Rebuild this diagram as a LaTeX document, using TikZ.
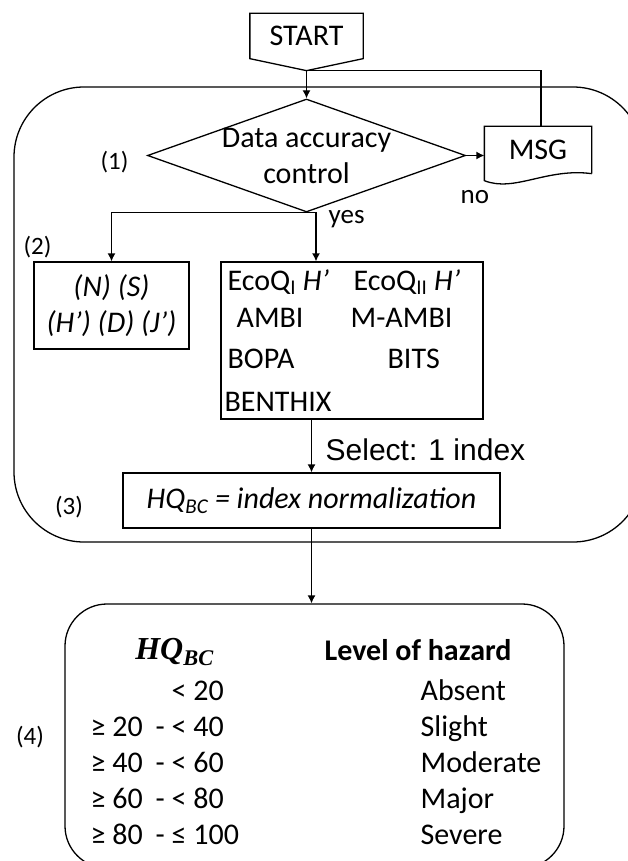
\documentclass[tikz,border=0pt]{standalone}
\usepackage{fontspec}
\setmainfont{Carlito}
\newfontfamily\arialfont{Liberation Sans}
\newfontfamily\headfont{Liberation Serif}
\usetikzlibrary{shapes.geometric, arrows.meta, positioning, calc}

\begin{document}
\begin{tikzpicture}[x=1pt, y=-1pt, line width=1.3pt,
    every node/.style={font=\fontsize{30}{36}\selectfont, inner sep=0pt},
    box/.style={draw, inner sep=0pt},
    tag/.style={font=\fontsize{25}{30}\selectfont},
    small/.style={font=\fontsize{27}{32}\selectfont},
    arr/.style={-{Latex[length=8pt,width=8pt]}}]
    \useasboundingbox (0,0) rectangle (628,861);

    \node[draw, rounded corners=70pt, minimum width=629pt, minimum height=455pt] (procframe) at (328.5,314.5) {};
    \node[draw, rounded corners=42pt, minimum width=499pt, minimum height=264pt] (hazard) at (314.5,736) {};

    \node[minimum width=112pt, minimum height=44pt] (start) at (306.5,36) {START};
    \coordinate (startpt) at ([yshift=-12pt]start.south);
    \draw (start.north west) -- (start.north east) -- (start.south east) -- (startpt) -- (start.south west) -- cycle;

    \node[diamond, draw, minimum width=318pt, minimum height=113pt,
        label={[align=center]center:Data accuracy\\control}] (check) at (306.5,155.5) {};

    \node[minimum width=106pt, minimum height=46pt] (msg) at (538,150) {MSG};
    \draw (msg.south east) -- (msg.north east) -- (msg.north west) -- ($(msg.south west)+(0,7)$)
        .. controls ($(msg.south west)+(30,19)$) and ($(msg.south east)+(-45,-6)$) .. (msg.south east);

    \node[tag] (stepone) at (114.5,162) {(1)};
    \node[tag] (steptwo) at (37.5,247) {(2)};
    \node[tag] (stepthree) at (69,507) {(3)};
    \node[tag] (stepfour) at (30,737) {(4)};

    \node[small, anchor=base west] (nolabel) at (460,203) {no};
    \node[small, anchor=base west] (yeslabel) at (328,223) {yes};

    \node[box, minimum width=155pt, minimum height=87pt, align=center,
        font=\fontsize{30}{36}\selectfont\itshape] (stats) at (111.5,305.5) {(N) (S)\\(H’) (D) (J’)};

    \node[box, minimum width=262pt, minimum height=157pt] (indices) at (352,340.5) {};
    \node[anchor=base west] (ecoqone) at (227,290) {EcoQ\textsubscript{I} \textit{H’}};
    \node[anchor=base west] (ecoqtwo) at (353,290) {EcoQ\textsubscript{II} \textit{H’}};
    \node[anchor=base west] (ambi) at (236,327) {AMBI};
    \node[anchor=base west] (mambi) at (350,327) {M-AMBI};
    \node[anchor=base west] (bopa) at (227,368) {BOPA};
    \node[anchor=base west] (bits) at (387,368) {BITS};
    \node[anchor=base west] (benthix) at (224,411) {BENTHIX};

    \node[box, minimum width=377pt, minimum height=55pt,
        font=\fontsize{30}{36}\selectfont\itshape] (hq) at (311.5,500.5) {HQ\textsubscript{BC} = index normalization};
    \node[anchor=base west, font=\arialfont\fontsize{30}{36}\selectfont] (select) at (325,460) {Select: 1 index};

    \draw[arr] (startpt) -- (check.north);
    \draw (startpt) -| ([xshift=3pt]msg.north);
    \draw[arr] (check.east) -- (check.east -| msg.west);
    \draw[arr] (check.south) -| (stats.north);
    \draw[arr] (check.south) -| ([xshift=-36pt]indices.north);
    \draw[arr] (hq.north |- indices.south) -- (hq.north);
    \draw[arr] (hq.south) -- (hq.south |- hazard.north);

    \node[anchor=base, font=\headfont\fontsize{32}{38}\selectfont\bfseries\itshape] (hqhead) at (174.5,659) {HQ\textsubscript{BC}};
    \node[anchor=base west, font=\fontsize{30}{36}\selectfont\bfseries] (levelhead) at (324,660) {Level of hazard};
    \foreach \lo/\hi/\lvl [count=\i] in {{}/{\phantom{-} < 20}/Absent, {≥ 20}/{- < 40}/Slight,
        {≥ 40}/{- < 60}/Moderate, {≥ 60}/{- < 80}/Major, {≥ 80}/{- ≤ 100}/Severe} {
        \node[anchor=base west] (lo\i) at (90,{664+36*\i}) {\lo};
        \node[anchor=base west] (hi\i) at (155,{664+36*\i}) {\hi};
        \node[anchor=base west] (lvl\i) at (420,{664+36*\i}) {\lvl};
    }
\end{tikzpicture}
\end{document}
